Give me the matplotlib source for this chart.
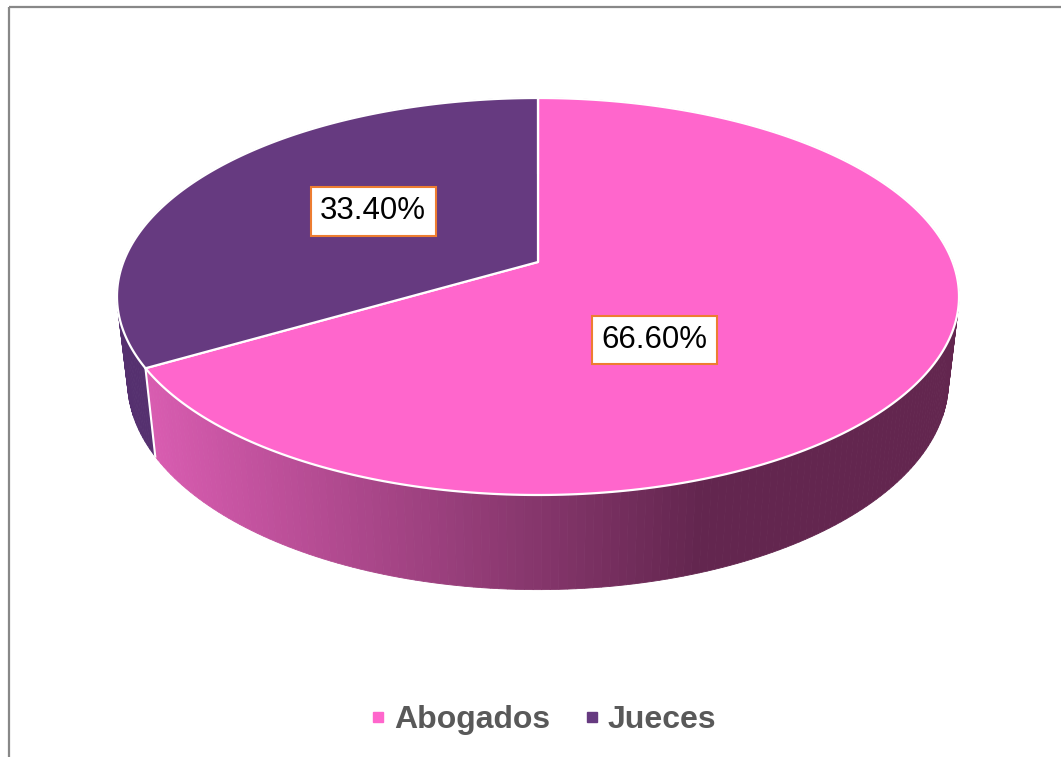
import numpy as np
import matplotlib
matplotlib.use("Agg")
import matplotlib.pyplot as plt
from matplotlib.lines import Line2D
from matplotlib.colors import to_rgb

plt.rcParams['font.family'] = ['Liberation Sans', 'DejaVu Sans']

# datos
categorias = ['Abogados', 'Jueces']
valores = [66.6, 33.4]
colores = ['#FF66CC', '#663A80']
colores_lado = ['#D85CB0', '#55306F']
etiquetas = [f"{v:.2f}%" for v in valores]
# posicion de etiquetas (angulo en grados, radio relativo)
pos_etiquetas = [(-55.3, 0.46), (146.4, 0.50)]

# parametros de la vista en perspectiva (pixeles)
CX, CY = 538, 262
A, B, K = 414.6, 192.5, 0.1738
S_BAJO, CAIDA = 0.975, 83.0


def proj(ang, r=1.0, s=1.0, drop=0.0):
    x = r * np.cos(ang)
    y = r * np.sin(ang)
    w = 1 + K * y
    return CX + A * s * x / w, CY - B * s * y / w + drop / w


def grad_rosa(u):
    c0 = np.array(to_rgb('#D85CB0'))
    c1 = np.array(to_rgb('#63264F'))
    t = np.clip((u - 150) / (700 - 150), 0, 1)
    return tuple(c0 + (c1 - c0) * t)


fig = plt.figure(figsize=(10.61, 7.57), dpi=100)
ax = fig.add_axes([0, 0, 1, 1])
ax.set_xlim(0, 1061)
ax.set_ylim(757, 0)
ax.axis('off')

# angulos de las porciones (empieza a las 12, sentido horario)
total = sum(valores)
inicio = np.pi / 2
limites = []
for v in valores:
    fin = inicio - 2 * np.pi * v / total
    limites.append((inicio, fin))
    inicio = fin

# pared lateral
quads = []
for i, (a0, a1) in enumerate(limites):
    n = max(int(abs(a1 - a0) / np.radians(1.0)), 2)
    angs = np.linspace(a0, a1, n + 1)
    for j in range(n):
        t0, t1 = angs[j], angs[j + 1]
        ut0, vt0 = proj(t0)
        ut1, vt1 = proj(t1)
        ub1, vb1 = proj(t1, s=S_BAJO, drop=CAIDA)
        ub0, vb0 = proj(t0, s=S_BAJO, drop=CAIDA)
        xs = [ut0, ut1, ub1, ub0]
        ys = [vt0, vt1, vb1, vb0]
        if i == 0:
            col = grad_rosa((ut0 + ut1) / 2)
        else:
            col = colores_lado[i]
        depth = np.sin((t0 + t1) / 2)
        quads.append((depth, xs, ys, col))
quads.sort(key=lambda q: -q[0])
for _, xs, ys, col in quads:
    ax.fill(xs, ys, color=col, lw=0.6, ec=col)

# costuras blancas en la pared
for a0, a1 in limites:
    ut, vt = proj(a1)
    ub, vb = proj(a1, s=S_BAJO, drop=CAIDA)
    ax.plot([ut, ub], [vt, vb], color='white', lw=1.5)

# cara superior
for i, (a0, a1) in enumerate(limites):
    angs = np.linspace(a0, a1, 300)
    u, v = proj(angs)
    xs = np.concatenate([[CX], u, [CX]])
    ys = np.concatenate([[CY], v, [CY]])
    ax.fill(xs, ys, color=colores[i], ec='white', lw=1.6, joinstyle='round')

# etiquetas
for i, (ang, r) in enumerate(pos_etiquetas):
    u, v = proj(np.radians(ang), r=r)
    ax.text(u, v, etiquetas[i], fontsize=22.5, color='black', ha='center', va='center',
            bbox=dict(boxstyle='square,pad=0.3', fc='white', ec='#ED7D31', lw=1.5))

# marco
ax.plot([8.5, 8.5], [757, 6.5], color='#888888', lw=1.6, solid_capstyle='butt')
ax.plot([8.5, 1061], [6.5, 6.5], color='#888888', lw=1.6, solid_capstyle='butt')

# leyenda
handles = [Line2D([], [], marker='s', ls='none', markersize=7, color=c) for c in colores]
fig.legend(handles, categorias, loc='center', bbox_to_anchor=(544 / 1061, 1 - 720 / 757),
           ncol=2, frameon=False, handlelength=0.4, handletextpad=0.3, columnspacing=1.1,
           prop={'size': 23, 'weight': 'bold'}, labelcolor='#595959')

fig.savefig('out.png', dpi=100)
